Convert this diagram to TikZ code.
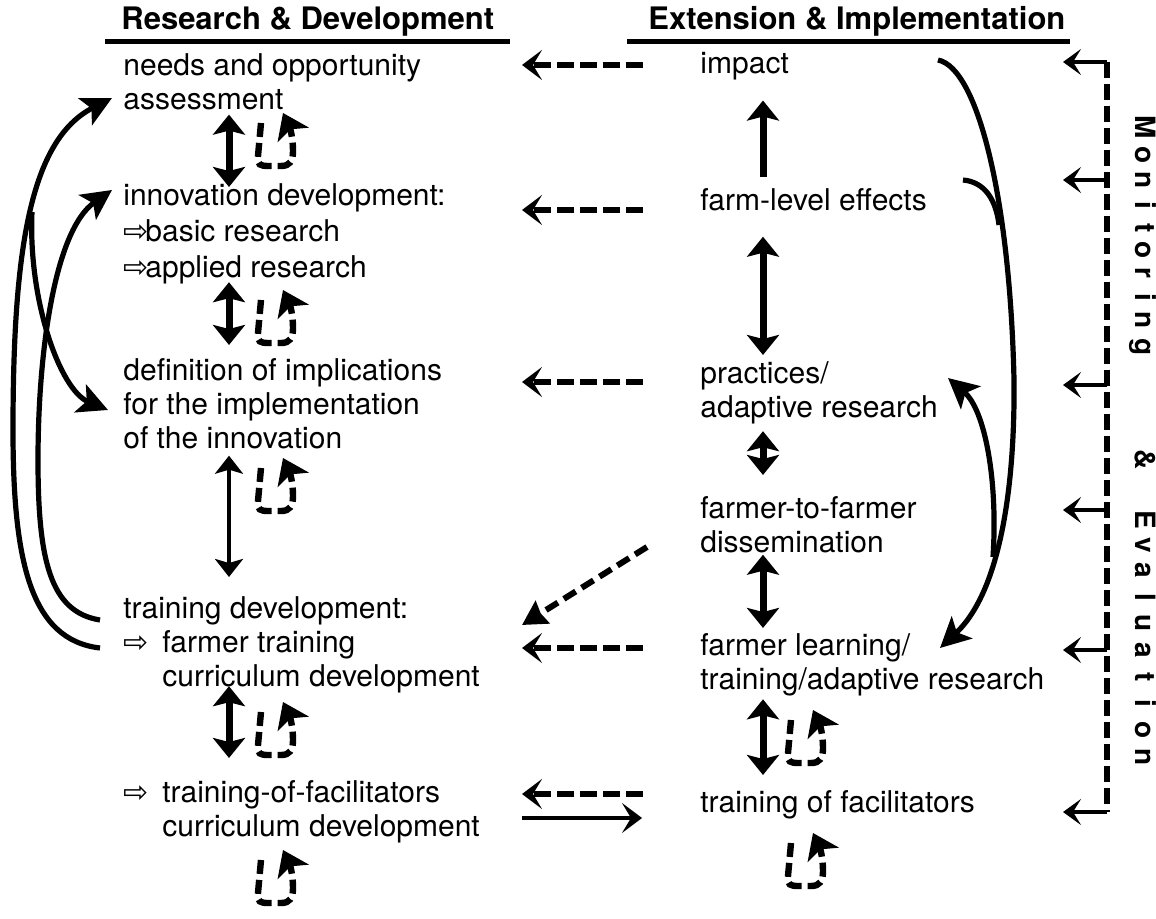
\documentclass[tikz,border=0pt]{standalone}
\usepackage{fontspec}
\setmainfont{TeX Gyre Heros}
\newfontfamily\djv{DejaVu Sans}
\usetikzlibrary{arrows.meta}
\newcommand\wrarr{{\djv\fontsize{15}{15}\selectfont\char"21E8}}
\tikzset{
  txt/.style={font=\fontsize{15}{17}\selectfont, inner sep=0pt, anchor=north west, align=left},
  hdr/.style={font=\bfseries\fontsize{15.5}{17}\selectfont, inner sep=0pt, anchor=base west},
  rulel/.style={line width=2.5pt},
  dblarr/.style={line width=3.5pt, arrows={Stealth[length=10pt,width=16pt,inset=2pt]-Stealth[length=10pt,width=16pt,inset=2pt]}},
  thinarr/.style={line width=2pt, arrows={Stealth[length=9pt,width=14pt,inset=2pt]-Stealth[length=9pt,width=14pt,inset=2pt]}},
  uparr/.style={line width=3.5pt, arrows={-Stealth[length=10pt,width=16pt,inset=2pt]}},
  curvarr/.style={line width=2.6pt, arrows={-Stealth[length=15pt,width=15pt,inset=3.5pt]}},
  curvline/.style={line width=2.6pt},
  dasharr/.style={line width=3pt, dash pattern=on 8.5pt off 3pt, arrows={-Stealth[length=10pt,width=15pt,inset=4.5pt]}},
  diagarr/.style={line width=3pt, dash pattern=on 7pt off 3.5pt, arrows={-Stealth[length=12pt,width=13pt,inset=1pt]}},
  solidarr/.style={line width=2.2pt, arrows={-Stealth[length=10pt,width=15pt,inset=4.5pt]}},
  monline/.style={line width=2.6pt, dash pattern=on 8pt off 3pt},
  monarr/.style={line width=1.8pt, arrows={-Stealth[length=9pt,width=13pt,inset=4pt]}},
  loopsty/.style={line width=3.2pt, dash pattern=on 7pt off 3pt, arrows={-Stealth[length=12pt,width=17pt,inset=3pt]}},
  mon/.style={font=\bfseries\fontsize{14}{15}\selectfont, inner sep=0pt, anchor=base, rotate=-90},
  loopicon/.pic={\draw[loopsty] (6,7) -- (3,40) .. controls (2,49) and (5,50) .. (14,50) -- (26,50) .. controls (35,50) and (38,45) .. (38,35) .. controls (38,22) and (35,12) .. (28,-3);}
}
\begin{document}
\begin{tikzpicture}[x=0.5pt,y=-0.5pt]
\useasboundingbox (0,0) rectangle (1156,919);

% headers
\node[hdr] (hRD) at (121,30) {Research \& Development};
\node[hdr] (hEI) at (648,30) {Extension \& Implementation};
\draw[rulel] (105,42) -- (510,42);
\draw[rulel] (627,42) -- (1070,42);

% left column
\node[txt] (needs) at (123,53.5) {needs and opportunity\\assessment};
\node[txt, font=\fontsize{15}{18}\selectfont] (innov) at (123,183) {innovation development:\\\makebox[11pt][l]{\wrarr}basic research\\\makebox[11pt][l]{\wrarr}applied research};
\node[txt] (defn) at (123,358.5) {definition of implications\\for the implementation\\of the innovation};
\node[txt] (trdev) at (123,596) {training development:\\\makebox[19.5pt][l]{\wrarr}farmer training\\\hspace*{19.5pt}curriculum development};
\node[txt] (tof) at (123,780) {\makebox[19.5pt][l]{\wrarr}training-of-facilitators\\\hspace*{19.5pt}curriculum development};

% middle column
\node[txt] (impact) at (700,51.5) {impact};
\node[txt] (farm) at (700,188.5) {farm-level effects};
\node[txt] (pract) at (700,361.5) {practices/\\adaptive research};
\node[txt] (f2f) at (700,496.5) {farmer-to-farmer\\dissemination};
\node[txt] (fl) at (700,633.5) {farmer learning/\\training/adaptive research};
\node[txt] (trf) at (700,790.5) {training of facilitators};

% vertical arrows
\coordinate (colL) at (229,0);
\coordinate (colM) at (763,0);
\draw[dblarr, shorten <=2pt, shorten >=-2pt] (needs.south -| colL) -- (innov.north -| colL);
\draw[dblarr, shorten <=-1pt, shorten >=6.75pt] (innov.south -| colL) -- (defn.north -| colL);
\draw[thinarr, shorten <=3pt, shorten >=9.5pt] (defn.south -| colL) -- (trdev.north -| colL);
\draw[dblarr, shorten <=-3.5pt, shorten >=11pt] (trdev.south -| colL) -- (tof.north -| colL);
\draw[uparr, shorten <=5.75pt, shorten >=10.25pt] (farm.north -| colM) -- (impact.south -| colM);
\draw[dblarr, shorten <=12.5pt, shorten >=3.25pt] (farm.south -| colM) -- (pract.north -| colM);
\draw[dblarr, shorten <=3.25pt, shorten >=10.75pt] (pract.south -| colM) -- (f2f.north -| colM);
\draw[dblarr, shorten <=0.5pt, shorten >=2.75pt] (f2f.south -| colM) -- (fl.north -| colM);
\draw[dblarr, shorten <=1.25pt, shorten >=7.75pt] (fl.south -| colM) -- (trf.north -| colM);

% loop icons
\pic at (255,116) {loopicon};
\pic at (255,293) {loopicon};
\pic at (255,461) {loopicon};
\pic at (255,705) {loopicon};
\pic at (255,853) {loopicon};
\pic at (785,713) {loopicon};
\pic at (785,836) {loopicon};

% dashed feedback arrows
\coordinate (dLx) at (522,0);
\coordinate (dA) at (643,65);
\coordinate (dB) at (643,210);
\coordinate (dC) at (643,382);
\coordinate (dE) at (643,648);
\coordinate (dF) at (643,794);
\draw[dasharr] (dA) -- (dA -| dLx);
\draw[dasharr] (dB) -- (dB -| dLx);
\draw[dasharr] (dC) -- (dC -| dLx);
\draw[dasharr] (dE) -- (dE -| dLx);
\draw[dasharr] (dF) -- (dF -| dLx);
\coordinate (dD) at (647,547);
\coordinate (dDe) at (522,625);
\draw[diagarr] (dD) -- (dDe);
\coordinate (sL) at (522,818);
\coordinate (sR) at (642,818);
\draw[solidarr] (sL) -- (sR);

% left curved arrows
\coordinate (cO) at (100,648);
\coordinate (cOe) at (112,98);
\coordinate (cI) at (100,620);
\coordinate (cIe) at (112,190);
\coordinate (cB) at (32,212);
\coordinate (cBe) at (108,410);
\draw[curvarr] (cO) .. controls (30,640) and (13,560) .. (13,430) .. controls (13,250) and (30,140) .. (cOe);
\draw[curvarr] (cI) .. controls (50,612) and (38,560) .. (38,460) .. controls (38,350) and (55,230) .. (cIe);
\draw[curvarr] (cB) .. controls (28,300) and (60,390) .. (cBe);

% right curved arrows
\coordinate (rI) at (938,60);
\coordinate (rIe) at (940,648);
\coordinate (rF) at (963,180);
\coordinate (rFe) at (999,225);
\coordinate (rP) at (993,557);
\coordinate (rPe) at (948,378);
\draw[curvarr] (rI) .. controls (978,68) and (1010,200) .. (1014,380) .. controls (1015,480) and (1002,590) .. (rIe);
\draw[curvline] (rF) .. controls (985,182) and (996,200) .. (rFe);
\draw[curvarr] (rP) .. controls (998,480) and (985,410) .. (rPe);

% monitoring & evaluation
\foreach \yy [count=\i] in {62,180,385,510,650,812} {
  \coordinate (mS\i) at (1107,\yy);
  \coordinate (mE\i) at (1063,\yy);
  \draw[monarr] (mS\i) -- (mE\i);
}
\draw[monline] (mS1) -- (mS6);
\foreach \ch/\yy [count=\i] in {M/127,o/155,n/180,i/205,t/228,o/250,r/273,i/297,n/320,g/347,\&/460,E/520,v/545,a/570,l/597,u/623,a/650,t/677,i/703,o/730,n/757} {
  \node[mon] (mon\i) at (1135,\yy) {\ch};
}
\end{tikzpicture}
\end{document}
